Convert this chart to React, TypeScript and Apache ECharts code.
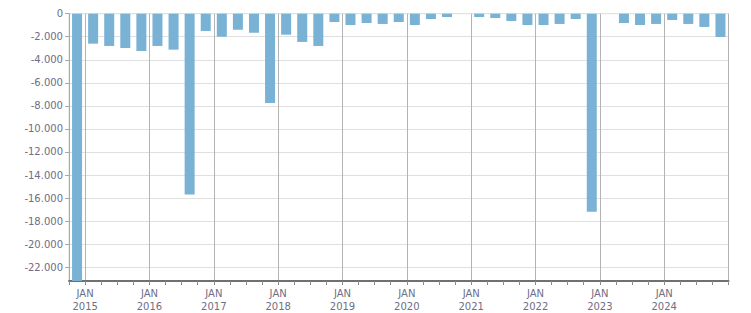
import React, { useEffect, useRef } from "react";
import * as echarts from "echarts";

const categories = [
  "2014 Q4",
  "2015 Q1", "2015 Q2", "2015 Q3", "2015 Q4",
  "2016 Q1", "2016 Q2", "2016 Q3", "2016 Q4",
  "2017 Q1", "2017 Q2", "2017 Q3", "2017 Q4",
  "2018 Q1", "2018 Q2", "2018 Q3", "2018 Q4",
  "2019 Q1", "2019 Q2", "2019 Q3", "2019 Q4",
  "2020 Q1", "2020 Q2", "2020 Q3", "2020 Q4",
  "2021 Q1", "2021 Q2", "2021 Q3", "2021 Q4",
  "2022 Q1", "2022 Q2", "2022 Q3", "2022 Q4",
  "2023 Q1", "2023 Q2", "2023 Q3", "2023 Q4",
  "2024 Q1", "2024 Q2", "2024 Q3", "2024 Q4",
];

const values = [
  -23200,
  -2600, -2800, -2980, -3240,
  -2800, -3120, -15700, -1500,
  -2000, -1390, -1650, -7750,
  -1820, -2450, -2800, -720,
  -980, -810, -890, -720,
  -980, -460, -290, 0,
  -290, -370, -630, -980,
  -980, -890, -460, -17200,
  0, -810, -980, -890,
  -550, -890, -1150, -2020,
];

const yMin = -23200;
const yMax = 0;

const labelColor = "#6e6e88";
const fontFamily = "DejaVu Sans";

function fmt(v: number): string {
  const s = Math.abs(Math.round(v)).toString().replace(/\B(?=(\d{3})+(?!\d))/g, ".");
  return (v < 0 ? "-" : "") + s;
}

export default function App() {
  const ref = useRef<HTMLDivElement>(null);
  useEffect(() => {
    if (!ref.current) return;
    const chart = echarts.init(ref.current, undefined, { renderer: "svg" });
    const isJan = (i: number) => categories[i] && categories[i].endsWith("Q1");
    chart.setOption({
      animation: false,
      grid: {
        left: 69,
        right: 22.5,
        top: 13.7,
        bottom: 32,
        show: true,
        borderColor: "#dcdcdc",
        borderWidth: 1,
      },
      xAxis: {
        type: "category",
        data: categories,
        boundaryGap: true,
        axisLine: { show: true, onZero: false, lineStyle: { color: "#707070", width: 2 } },
        axisTick: {
          show: true,
          interval: 0,
          length: 4,
          lineStyle: { color: "#8a8a8a" },
        },
        splitLine: {
          show: true,
          interval: (i: number) => isJan(i),
          lineStyle: { color: "#b4b4b4", width: 1 },
        },
        axisLabel: {
          show: true,
          interval: (i: number) => isJan(i),
          formatter: (v: string) => "JAN\n" + v.slice(0, 4),
          color: labelColor,
          fontFamily,
          fontSize: 10,
          lineHeight: 13,
          margin: 6,
          padding: [0, 16, 0, 0],
        },
      },
      yAxis: {
        type: "value",
        min: yMin,
        max: yMax,
        splitNumber: 12,
        axisLine: { show: true, lineStyle: { color: "#a8a8a8" } },
        axisTick: { show: true, length: 4, lineStyle: { color: "#a8a8a8" } },
        splitLine: { show: true, lineStyle: { color: "#e0e0e0" } },
        axisLabel: {
          showMinLabel: false,
          formatter: (v: number) => fmt(v),
          color: labelColor,
          fontFamily,
          fontSize: 10,
          margin: 6,
        },
      },
      series: [
        {
          type: "bar",
          data: values,
          barWidth: 10,
          itemStyle: { color: "#79b2d4" },
        },
      ],
    });
    return () => chart.dispose();
  }, []);
  return <div ref={ref} style={{ width: 751, height: 313, position: "absolute", left: 0, top: 0 }} />;
}
